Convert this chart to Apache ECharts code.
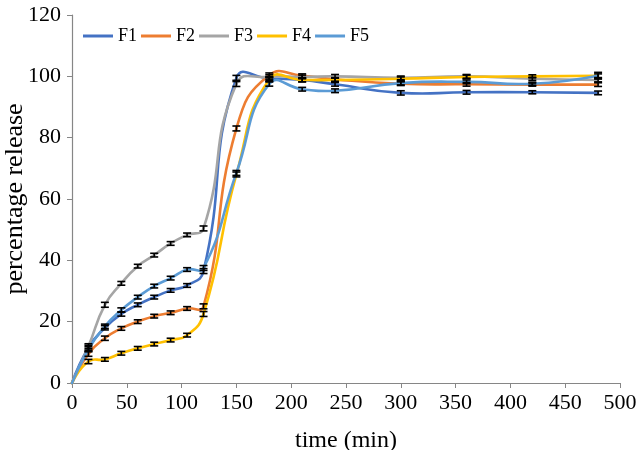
<!DOCTYPE html>
<html><head><meta charset="utf-8">
<script src="https://cdn.jsdelivr.net/npm/echarts/dist/echarts.min.js"></script>
<style>html,body{margin:0;padding:0;background:#fff}#c{width:638px;height:450px}</style>
</head><body><div id="c"></div>
<script>
const times = [0, 15, 30, 45, 60, 75, 90, 105, 120, 150, 180, 210, 240, 300, 360, 420, 480];
const F1 = [0, 11.5, 18, 22.5, 25.5, 28, 30.2, 31.8, 36.5, 99.5, 99.3, 98.8, 97.4, 94.6, 94.8, 94.8, 94.6];
const F2 = [0, 9.5, 14.6, 17.8, 20, 21.8, 22.9, 24.3, 25, 83, 100.4, 100.2, 99.0, 97.6, 97.4, 97.3, 97.3];
const F3 = [0, 12, 25.5, 32.5, 38.1, 41.7, 45.5, 48.3, 50.4, 97.5, 99.8, 99.8, 100, 99.5, 100, 99.2, 98.8];
const F4 = [0, 7, 7.7, 9.7, 11.3, 12.7, 14, 15.6, 22.5, 68, 99, 98.8, 98.8, 99.2, 99.8, 100, 100.2];
const F5 = [0, 11, 18.5, 23.8, 28, 31.6, 34.2, 37, 37.5, 68.5, 97.5, 95.8, 95.3, 97.8, 98.2, 97.6, 100.2];
const err1 = [0, 0.8, 0.7, 0.7, 0.6, 0.6, 0.6, 0.6, 0.8, 0.8, 0.6, 0.6, 0.6, 0.7, 0.6, 0.5, 0.6];
const err2 = [0, 0.8, 0.7, 0.6, 0.6, 0.6, 0.6, 0.6, 0.8, 0.8, 0.7, 0.6, 0.6, 0.6, 0.6, 0.5, 0.6];
const err3 = [0, 0.8, 0.8, 0.6, 0.6, 0.6, 0.6, 0.6, 0.8, 0.8, 0.7, 0.6, 0.6, 0.6, 0.6, 0.5, 0.6];
const err4 = [0, 0.7, 0.6, 0.6, 0.6, 0.6, 0.6, 0.6, 0.8, 0.8, 0.7, 0.6, 0.6, 0.6, 0.6, 0.5, 0.6];
const err5 = [0, 0.8, 0.7, 0.7, 0.6, 0.6, 0.6, 0.6, 0.8, 0.8, 0.7, 0.6, 0.6, 0.6, 0.6, 0.5, 1.1];
const names = ['F1', 'F2', 'F3', 'F4', 'F5'];
const colors = ['#4472C4', '#ED7D31', '#A5A5A5', '#FFC000', '#5B9BD5'];
const xTicks = {min: 0, max: 500, interval: 50};
const yTicks = {min: 0, max: 120, interval: 20};

const values = [F1, F2, F3, F4, F5];
const errs = [err1, err2, err3, err4, err5];
const FONT = "'Liberation Serif','Times New Roman',serif";
const SMOOTH = 0.5;

// Smoothed line drawn segment by segment (spreadsheet-style spline, control points not clamped)
function curveSeries(k) {
  const vals = values[k];
  const n = times.length;
  return {
    type: 'custom', name: names[k], z: 2,
    itemStyle: {color: colors[k]},
    data: times.map((t, i) => [t, vals[i]]),
    encode: {x: 0, y: 1},
    renderItem: function (params, api) {
      const i = params.dataIndex;
      if (i >= n - 1) return null;
      const P = j => api.coord([times[j], vals[j]]);
      const cur = P(i), nxt = P(i + 1);
      function cp(idx, pt, toNext) {
        if (idx <= 0 || idx >= n - 1) return pt.slice();
        const pr = P(idx - 1), nx = P(idx + 1);
        const vx = nx[0] - pr[0], vy = nx[1] - pr[1];
        const d0 = Math.hypot(pt[0] - pr[0], pt[1] - pr[1]);
        const d1 = Math.hypot(nx[0] - pt[0], nx[1] - pt[1]);
        const sum = d0 + d1 || 1;
        if (toNext) return [pt[0] + vx * SMOOTH * d1 / sum, pt[1] + vy * SMOOTH * d1 / sum];
        return [pt[0] - vx * SMOOTH * d0 / sum, pt[1] - vy * SMOOTH * d0 / sum];
      }
      const c1 = cp(i, cur, true);
      const c2 = cp(i + 1, nxt, false);
      return {
        type: 'bezierCurve',
        shape: {x1: cur[0], y1: cur[1], x2: nxt[0], y2: nxt[1], cpx1: c1[0], cpy1: c1[1], cpx2: c2[0], cpy2: c2[1]},
        style: {stroke: colors[k], lineWidth: 2.6, fill: null, lineCap: 'round'}
      };
    }
  };
}
function errSeries(k) {
  return {
    type: 'custom', name: names[k] + ' err', silent: true, z: 5,
    data: times.map((t, i) => [t, values[k][i] - errs[k][i], values[k][i] + errs[k][i]]).filter((d, i) => errs[k][i] > 0),
    encode: {x: 0, y: [1, 2]},
    renderItem: function (params, api) {
      const x = api.value(0);
      const lo = api.coord([x, api.value(1)]);
      const hi = api.coord([x, api.value(2)]);
      const hw = 4;
      const st = {stroke: '#000', lineWidth: 1.6};
      return {type: 'group', children: [
        {type: 'line', shape: {x1: lo[0], y1: lo[1], x2: hi[0], y2: hi[1]}, style: st},
        {type: 'line', shape: {x1: lo[0] - hw, y1: lo[1], x2: lo[0] + hw, y2: lo[1]}, style: st},
        {type: 'line', shape: {x1: hi[0] - hw, y1: hi[1], x2: hi[0] + hw, y2: hi[1]}, style: st}
      ]};
    }
  };
}

const series = [];
for (let k = 0; k < 5; k++) series.push(curveSeries(k));
for (let k = 0; k < 5; k++) series.push(errSeries(k));

const chart = echarts.init(document.getElementById('c'), null, {renderer: 'canvas'});
chart.setOption({
  animation: false,
  backgroundColor: '#fff',
  grid: {left: 72, right: 18, top: 15, bottom: 67, containLabel: false, outerBoundsMode: 'none'},
  legend: {
    data: names, left: 83, top: 27, padding: 0, icon: 'rect', itemWidth: 30, itemHeight: 3, itemGap: 4,
    textStyle: {fontFamily: FONT, fontSize: 18, color: '#000'}
  },
  xAxis: {
    type: 'value', min: xTicks.min, max: xTicks.max, interval: xTicks.interval,
    name: 'time (min)', nameLocation: 'middle', nameGap: 46, nameMoveOverlap: false,
    nameTextStyle: {fontFamily: FONT, fontSize: 24, color: '#000'},
    axisLine: {lineStyle: {color: '#868686', width: 1.2}},
    axisTick: {show: true, length: 5, lineStyle: {color: '#868686'}},
    axisLabel: {fontFamily: FONT, fontSize: 22, color: '#000', margin: 9},
    splitLine: {show: false}
  },
  yAxis: {
    type: 'value', min: yTicks.min, max: yTicks.max, interval: yTicks.interval,
    name: 'percentage release', nameLocation: 'middle', nameGap: 44, nameMoveOverlap: false,
    nameTextStyle: {fontFamily: FONT, fontSize: 26, color: '#000'},
    axisLine: {show: true, lineStyle: {color: '#868686', width: 1.2}},
    axisTick: {show: true, length: 5, lineStyle: {color: '#868686'}},
    axisLabel: {fontFamily: FONT, fontSize: 22, color: '#000', margin: 11},
    splitLine: {show: false}
  },
  series: series
});
</script>
</body></html>
